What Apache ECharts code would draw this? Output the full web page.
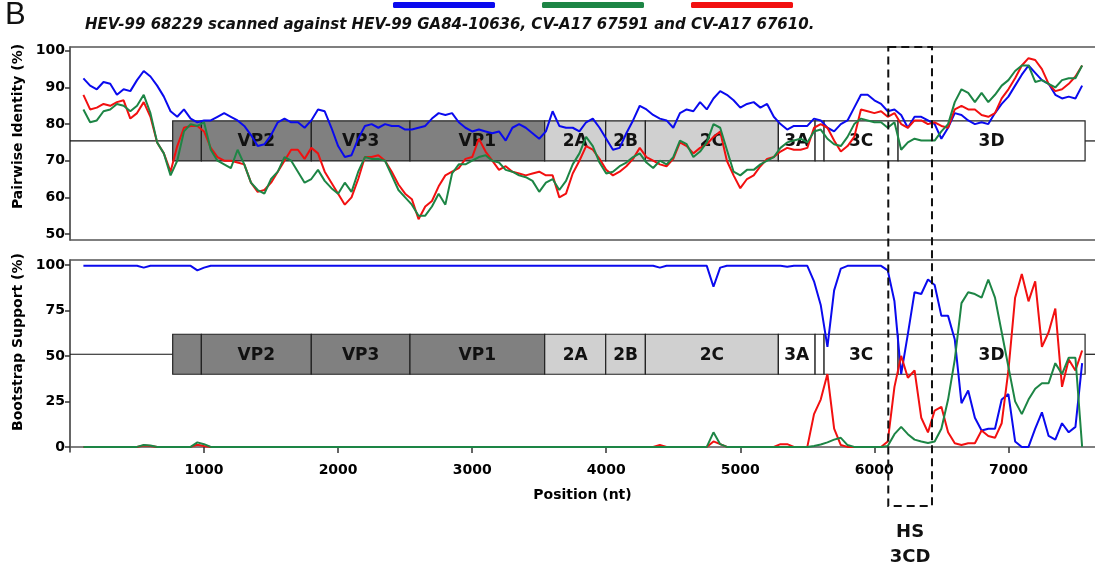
<!DOCTYPE html>
<html>
<head>
<meta charset="utf-8">
<script src="https://cdn.jsdelivr.net/npm/echarts@6/dist/echarts.min.js"></script>
<style>
  html, body { margin: 0; padding: 0; background: #fff; }
  #chart { width: 1095px; height: 570px; }
</style>
</head>
<body>
<div id="chart"></div>
<script>
// window centres along the genome (nt), one every 50 nt
const positions = [];
for (let p = 100; p <= 7550; p += 50) positions.push(p);

// pairwise identity (%) - blue: HEV-99 GA84-10636, green: CV-A17 67591, red: CV-A17 67610
const identityBlue = [
  92.5, 90.5, 89.5, 91.5, 91, 88, 89.5, 89, 92, 94.5,
  93, 90.5, 87.5, 83.5, 82, 84, 81.5, 80.5, 81, 81,
  82, 83, 82, 81, 79.5, 77, 74, 74.5, 77, 80.5,
  81.5, 80.5, 80.5, 79, 81, 84, 83.5, 79, 74, 71,
  71.5, 76, 79.5, 80, 79, 80, 79.5, 79.5, 78.5, 78.5,
  79, 79.5, 81.5, 83, 82.5, 83, 80.5, 79, 78, 78.5,
  78, 77.5, 78, 75.5, 79, 80, 79, 77.5, 76, 78,
  83.5, 79.5, 79, 79, 78, 80.5, 81.5, 79, 76, 73,
  73.5, 77.5, 81, 85, 84, 82.5, 81.5, 81, 79, 83,
  84, 83.5, 86, 84, 87, 89, 88, 86.5, 84.5, 85.5,
  86, 84.5, 85.5, 82, 80, 78.5, 79.5, 79.5, 79.5, 81.5,
  81, 79, 78, 80, 81, 84.5, 88, 88, 86.5, 85.5,
  83.5, 84, 82.5, 79, 82, 82, 81, 80, 76, 79,
  83, 82.5, 81, 80, 80.5, 80, 83, 85.5, 87.5, 90.5,
  93.5, 96, 94, 92, 91, 88, 87, 87.5, 87, 90.5
];
const identityRed = [
  88, 84, 84.5, 85.5, 85, 86, 86.5, 81.5, 83, 86,
  82, 75, 72, 67, 74, 79, 79.5, 79.5, 78, 73.5,
  71, 70, 70, 69.5, 69, 64, 61.5, 62, 64, 67,
  70, 73, 73, 70.5, 73.5, 72, 67, 64, 61, 58,
  60, 65, 71, 71, 71.5, 70, 67, 63.5, 61, 59.5,
  54, 57.5, 59, 63, 66, 67, 68, 70.5, 71, 76,
  72.5, 70, 67.5, 68.5, 67, 66.5, 66, 66.5, 67, 66,
  66, 60, 61, 66.5, 70, 74, 73, 70.5, 67.5, 66,
  67, 68.5, 70.5, 73.5, 71, 70, 69, 68.5, 70.5, 75,
  74, 72, 73.5, 74.5, 76.5, 78, 70, 66, 62.5, 65,
  66, 68.5, 70.5, 71, 72.5, 73.5, 73, 73, 73.5, 79,
  80, 79, 75.5, 72.5, 74, 76.5, 84, 83.5, 83, 83.5,
  82, 83, 80, 79, 81, 81, 80, 80.5, 79.5, 79,
  84, 85, 84, 84, 82.5, 82, 83, 87, 89.5, 92.5,
  96, 98, 97.5, 95, 91, 89, 89.5, 91, 93, 96
];
const identityGreen = [
  84, 80.5, 81, 83.5, 84, 85.5, 85, 83.5, 85, 88,
  83, 75, 72, 66, 70, 78, 80, 79.5, 80.5, 73,
  70, 69, 68, 73, 69, 64, 62, 61, 65, 67,
  71, 70, 67, 64, 65, 67.5, 64.5, 62.5, 61, 64,
  61.5, 67, 71, 70.5, 70.5, 70, 66, 62, 60, 58,
  55, 55, 57.5, 61, 58, 66.5, 69, 69, 70, 71,
  71.5, 70, 69.5, 67.5, 67, 66, 65.5, 64.5, 61.5, 64,
  65, 62, 64.5, 69, 72, 76.5, 74, 69.5, 66.5, 67,
  68.5, 69.5, 71, 72, 69.5, 68, 70, 69, 71, 75.5,
  74.5, 71, 72.5, 75, 80, 79, 73, 67, 66, 67.5,
  67.5, 69, 70, 71, 73.5, 75, 75.5, 76, 75, 78,
  78.5, 76, 74.5, 74, 76.5, 80, 81.5, 81, 80.5, 80.5,
  79, 80.5, 73, 75, 76, 75.5, 75.5, 75.5, 78, 80,
  86, 89.5, 88.5, 86, 88.5, 86, 88, 90.5, 92, 94.5,
  96, 96, 91.5, 92, 91, 90, 92, 92.5, 92.5, 96
];

// bootstrap support (%)
const bootBlue = [
  99.5, 99.5, 99.5, 99.5, 99.5, 99.5, 99.5, 99.5, 99.5, 98.5,
  99.5, 99.5, 99.5, 99.5, 99.5, 99.5, 99.5, 97, 98.5, 99.5,
  99.5, 99.5, 99.5, 99.5, 99.5, 99.5, 99.5, 99.5, 99.5, 99.5,
  99.5, 99.5, 99.5, 99.5, 99.5, 99.5, 99.5, 99.5, 99.5, 99.5,
  99.5, 99.5, 99.5, 99.5, 99.5, 99.5, 99.5, 99.5, 99.5, 99.5,
  99.5, 99.5, 99.5, 99.5, 99.5, 99.5, 99.5, 99.5, 99.5, 99.5,
  99.5, 99.5, 99.5, 99.5, 99.5, 99.5, 99.5, 99.5, 99.5, 99.5,
  99.5, 99.5, 99.5, 99.5, 99.5, 99.5, 99.5, 99.5, 99.5, 99.5,
  99.5, 99.5, 99.5, 99.5, 99.5, 99.5, 98.5, 99.5, 99.5, 99.5,
  99.5, 99.5, 99.5, 99.5, 88, 98.5, 99.5, 99.5, 99.5, 99.5,
  99.5, 99.5, 99.5, 99.5, 99.5, 99, 99.5, 99.5, 99.5, 91,
  78, 55, 86, 98, 99.5, 99.5, 99.5, 99.5, 99.5, 99.5,
  97, 80, 40, 62, 85, 84, 92, 89, 72, 72,
  59, 24, 31, 16, 9, 10, 10, 26, 29, 3,
  0, 0, 10, 19, 6, 4, 13, 8, 11, 46
];
const bootRed = [
  0, 0, 0, 0, 0, 0, 0, 0, 0, 0.8,
  0.5, 0, 0, 0, 0, 0, 0, 1.2, 0.5, 0,
  0, 0, 0, 0, 0, 0, 0, 0, 0, 0,
  0, 0, 0, 0, 0, 0, 0, 0, 0, 0,
  0, 0, 0, 0, 0, 0, 0, 0, 0, 0,
  0, 0, 0, 0, 0, 0, 0, 0, 0, 0,
  0, 0, 0, 0, 0, 0, 0, 0, 0, 0,
  0, 0, 0, 0, 0, 0, 0, 0, 0, 0,
  0, 0, 0, 0, 0, 0, 1, 0, 0, 0,
  0, 0, 0, 0, 3, 1.5, 0, 0, 0, 0,
  0, 0, 0, 0, 1.5, 1.5, 0, 0, 0, 18,
  26, 40, 10, 1, 0, 0, 0, 0, 0, 0,
  3, 33, 50, 38, 42, 16, 8, 20, 22, 8,
  2, 1, 2, 2, 9, 6, 5, 13, 42, 82,
  95, 80, 91, 55, 63, 76, 33, 48, 42, 53
];
const bootGreen = [
  0, 0, 0, 0, 0, 0, 0, 0, 0, 1,
  0.8, 0, 0, 0, 0, 0, 0, 2.5, 1.5, 0,
  0, 0, 0, 0, 0, 0, 0, 0, 0, 0,
  0, 0, 0, 0, 0, 0, 0, 0, 0, 0,
  0, 0, 0, 0, 0, 0, 0, 0, 0, 0,
  0, 0, 0, 0, 0, 0, 0, 0, 0, 0,
  0, 0, 0, 0, 0, 0, 0, 0, 0, 0,
  0, 0, 0, 0, 0, 0, 0, 0, 0, 0,
  0, 0, 0, 0, 0, 0, 0, 0, 0, 0,
  0, 0, 0, 0, 8, 1.5, 0, 0, 0, 0,
  0, 0, 0, 0, 0, 0, 0, 0, 0, 0.5,
  1.3, 2.5, 4, 5, 1, 0, 0, 0, 0, 0,
  0.5, 7, 11, 7, 4, 3, 2.2, 3, 10, 26,
  48, 79, 85, 84, 82, 92, 82, 63, 44, 25,
  18, 26, 32, 35, 35, 46, 40, 49, 49, 0
];

// genome map
const geneNames  = ['', 'VP2', 'VP3', 'VP1', '2A', '2B', '2C', '3A', '', '3C', '3D'];
const geneStart  = [766, 980, 1800, 2536, 3541, 3996, 4292, 5284, 5558, 5625, 6177];
const geneEnd    = [980, 1800, 2536, 3541, 3996, 4292, 5284, 5558, 5625, 6177, 7572];
const geneRegion = ['P1', 'P1', 'P1', 'P1', 'P2', 'P2', 'P2', 'P3', 'P3', 'P3', 'P3'];

const xTicks = [1000, 2000, 3000, 4000, 5000, 6000, 7000];
const identityTicks = [50, 60, 70, 80, 90, 100];
const bootTicks = [0, 25, 50, 75, 100];

// hot-spot window for 3CD
const hsStart = 6104;
const hsEnd = 6430;

const names = ['HEV-99 GA84-10636', 'CV-A17 67591', 'CV-A17 67610'];
const colors = { blue: '#0a0aee', green: '#1d8545', red: '#f21010' };
const regionFill = { P1: '#808080', P2: '#d0d0d0', P3: '#ffffff' };
const FONT = 'DejaVu Sans';

const chart = echarts.init(document.getElementById('chart'));

function pairs(arr) {
  return positions.map((p, i) => [p, arr[i]]);
}

function genomeTrack(xIdx, yIdx, centerValue) {
  return {
    type: 'custom',
    xAxisIndex: xIdx,
    yAxisIndex: yIdx,
    z: 1,
    silent: true,
    data: geneStart.map((s, i) => [s, geneEnd[i]]),
    encode: { x: [0, 1] },
    renderItem: function (params, api) {
      const i = params.dataIndex;
      const x0 = api.coord([api.value(0), centerValue])[0];
      const x1 = api.coord([api.value(1), centerValue])[0];
      const cy = api.coord([api.value(0), centerValue])[1];
      const h = 40;
      const cs = params.coordSys;
      const children = [];
      if (i === 0) {
        children.push({ type: 'line', shape: { x1: cs.x, y1: cy, x2: x0, y2: cy },
          style: { stroke: '#111', lineWidth: 1.2 } });
      }
      if (i === geneStart.length - 1) {
        children.push({ type: 'line', shape: { x1: x1, y1: cy, x2: cs.x + cs.width + 5, y2: cy },
          style: { stroke: '#111', lineWidth: 1.2 } });
      }
      children.push({ type: 'rect', shape: { x: x0, y: cy - h / 2, width: x1 - x0, height: h },
        style: { fill: regionFill[geneRegion[i]], stroke: '#222', lineWidth: 1.2 } });
      if (geneNames[i]) {
        children.push({ type: 'text', style: { text: geneNames[i], x: (x0 + x1) / 2, y: cy + 1,
          align: 'center', verticalAlign: 'middle', fontSize: 17, fontWeight: 'bold',
          fontFamily: FONT, fill: '#111' } });
      }
      return { type: 'group', children: children };
    }
  };
}

function lineSeries(name, color, arr, xIdx, yIdx) {
  return {
    name: name,
    type: 'line',
    xAxisIndex: xIdx,
    yAxisIndex: yIdx,
    data: pairs(arr),
    showSymbol: false,
    z: 3,
    lineStyle: { color: color, width: 2 },
    itemStyle: { color: color }
  };
}

const frame = { lineStyle: { color: '#555', width: 1.5 } };
const plainX = {
  type: 'value', min: 0, max: 7646,
  axisLine: frame, axisTick: { show: false }, axisLabel: { show: false }, splitLine: { show: false }
};
const tickLabel = { fontWeight: 'bold', fontSize: 14, color: '#000', fontFamily: FONT };

const option = {
  animation: false,
  textStyle: { fontFamily: FONT },
  title: [
    { text: 'B', left: 5, top: 0, padding: 0,
      textStyle: { fontSize: 31, fontWeight: 'normal', color: '#111', fontFamily: 'Liberation Sans' } },
    { text: 'HEV-99 68229 scanned against HEV-99 GA84-10636, CV-A17 67591 and CV-A17 67610.',
      left: 85, top: 18, padding: 0,
      textStyle: { fontSize: 15, fontWeight: 'bold', fontStyle: 'italic', color: '#111', fontFamily: FONT } }
  ],
  legend: {
    data: names, left: 393, top: 2, padding: 0,
    itemWidth: 102, itemHeight: 6, itemGap: 47, icon: 'roundRect',
    selectedMode: false, formatter: function () { return ''; }
  },
  grid: [
    { left: 70, right: 0, top: 47, height: 193 },
    { left: 70, right: 0, top: 260, height: 192 }
  ],
  xAxis: [
    Object.assign({ gridIndex: 0 }, plainX),
    Object.assign({ gridIndex: 0, position: 'top' }, plainX),
    {
      gridIndex: 1, type: 'value', min: 0, max: 7646,
      axisLine: frame,
      axisTick: { length: 6, customValues: xTicks, lineStyle: { color: '#333', width: 1.5 } },
      axisLabel: Object.assign({ customValues: xTicks, margin: 11, formatter: v => String(v) }, tickLabel),
      splitLine: { show: false },
      name: 'Position (nt)', nameLocation: 'middle', nameGap: 36,
      nameTextStyle: { fontWeight: 'bold', fontSize: 14, color: '#000', fontFamily: FONT }
    },
    Object.assign({ gridIndex: 1, position: 'top' }, plainX)
  ],
  yAxis: [
    {
      gridIndex: 0, type: 'value', min: 48.35, max: 101.05,
      axisLine: { show: true, lineStyle: { color: '#333', width: 1.5 } },
      axisTick: { show: true, length: 5, customValues: identityTicks, lineStyle: { color: '#333', width: 1.5 } },
      axisLabel: Object.assign({ customValues: identityTicks, margin: 5 }, tickLabel),
      splitLine: { show: false },
      name: 'Pairwise Identity (%)', nameLocation: 'middle', nameGap: 43,
      nameTextStyle: { fontWeight: 'bold', fontSize: 14, color: '#000', fontFamily: FONT, padding: [0, 0, 0, 34] }
    },
    {
      gridIndex: 1, type: 'value', min: -2.8, max: 102.7,
      axisLine: { show: true, lineStyle: { color: '#333', width: 1.5 } },
      axisTick: { show: true, length: 5, customValues: bootTicks, lineStyle: { color: '#333', width: 1.5 } },
      axisLabel: Object.assign({ customValues: bootTicks, margin: 5 }, tickLabel),
      splitLine: { show: false },
      name: 'Bootstrap Support (%)', nameLocation: 'middle', nameGap: 43,
      nameTextStyle: { fontWeight: 'bold', fontSize: 14, color: '#000', fontFamily: FONT, padding: [0, 0, 0, 28] }
    }
  ],
  series: [
    genomeTrack(0, 0, 75.4),
    genomeTrack(2, 1, 50.9),
    lineSeries(names[0], colors.blue, identityBlue, 0, 0),
    lineSeries(names[2], colors.red, identityRed, 0, 0),
    lineSeries(names[1], colors.green, identityGreen, 0, 0),
    lineSeries(names[0], colors.blue, bootBlue, 2, 1),
    lineSeries(names[2], colors.red, bootRed, 2, 1),
    lineSeries(names[1], colors.green, bootGreen, 2, 1)
  ]
};

chart.setOption(option);

// dashed box marking the 3CD hot spot, placed through the x axis scale
const hx0 = chart.convertToPixel({ xAxisIndex: 2 }, hsStart);
const hx1 = chart.convertToPixel({ xAxisIndex: 2 }, hsEnd);
const hsText = { fontSize: 18, fontWeight: 'bold', fill: '#111', fontFamily: FONT, align: 'center', verticalAlign: 'middle' };
chart.setOption({
  graphic: [
    { type: 'rect', z: 100, shape: { x: hx0, y: 47, width: hx1 - hx0, height: 459 },
      style: { fill: 'none', stroke: '#111', lineWidth: 2, lineDash: [8, 5] } },
    { type: 'text', z: 100, x: (hx0 + hx1) / 2, y: 532, style: Object.assign({ text: 'HS' }, hsText) },
    { type: 'text', z: 100, x: (hx0 + hx1) / 2, y: 557, style: Object.assign({ text: '3CD' }, hsText) }
  ]
});

window.addEventListener('resize', () => chart.resize());
</script>
</body>
</html>
